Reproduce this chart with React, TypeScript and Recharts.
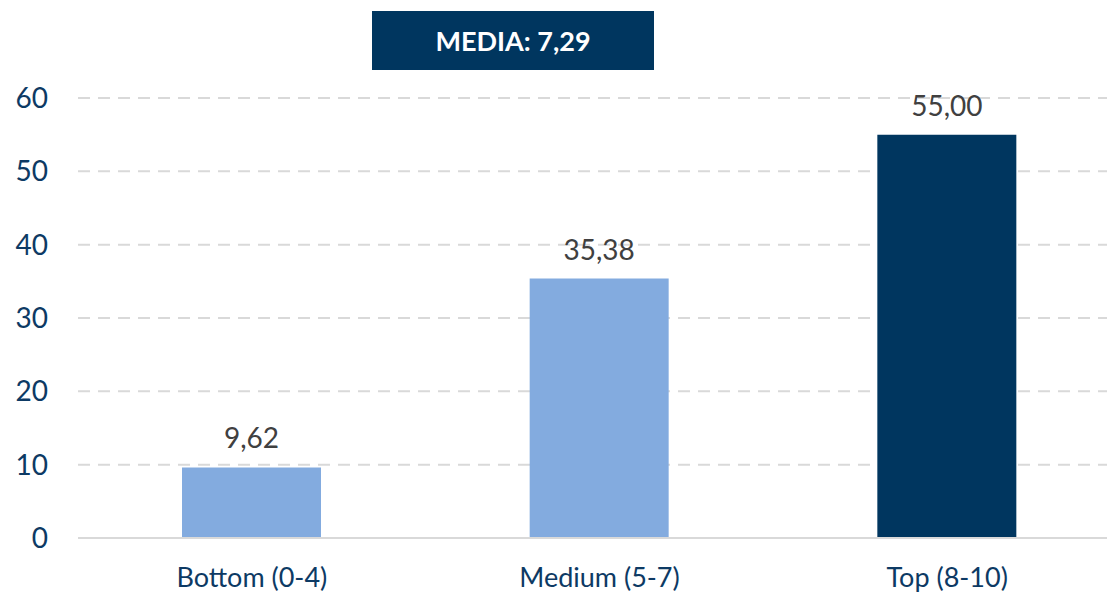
import { BarChart, Bar, XAxis, YAxis, CartesianGrid, Cell, LabelList } from "recharts";

const categories = ["Bottom (0-4)", "Medium (5-7)", "Top (8-10)"];
const values = [9.62, 35.38, 55.0];
const barColors = ["#83abdf", "#83abdf", "#00365f"];
const yTicks = [0, 10, 20, 30, 40, 50, 60];
const mediaLabel = "MEDIA: 7,29";

const FONT = "Lato, 'Open Sans', sans-serif";
const NAVY = "#0d3a64";

const chartData = categories.map((name, i) => ({ name, value: values[i] }));

function formatComma(v: number): string {
  return v.toFixed(2).replace(".", ",");
}

export default function App() {
  return (
    <div style={{ position: "absolute", left: 0, top: 0, width: 1107, height: 595, overflow: "hidden", background: "#fff", fontFamily: FONT }}>
      <BarChart
        width={1125}
        height={595}
        data={chartData}
        margin={{ top: 98, right: 4, left: 0, bottom: 7 }}
      >
        <CartesianGrid vertical={false} stroke="#d9d9d9" strokeWidth={2} strokeDasharray="12 8" />
        <XAxis
          dataKey="name"
          axisLine={{ stroke: "#d9d9d9", strokeWidth: 2 }}
          tickLine={false}
          tickSize={6}
          tickMargin={24}
          height={50}
          interval={0}
          tick={{ fill: NAVY, fontSize: 27, fontFamily: FONT }}
        />
        <YAxis
          domain={[0, 60]}
          ticks={yTicks}
          width={78}
          axisLine={false}
          tickLine={false}
          tickSize={6}
          tickMargin={24}
          tick={{ fill: NAVY, fontSize: 28, fontFamily: FONT }}
        />
        <Bar dataKey="value" barSize={139} isAnimationActive={false}>
          {chartData.map((d, i) => (
            <Cell key={d.name} fill={barColors[i]} />
          ))}
          <LabelList
            dataKey="value"
            position="top"
            offset={19}
            formatter={(v: number) => formatComma(v)}
            style={{ fill: "#404040", fontSize: 28, fontFamily: FONT }}
          />
        </Bar>
      </BarChart>
      <div
        style={{
          position: "absolute",
          left: 372,
          top: 11,
          width: 282,
          height: 59,
          background: "#00365f",
          color: "#fff",
          fontWeight: 700,
          fontSize: 27,
          display: "flex",
          alignItems: "center",
          justifyContent: "center",
        }}
      >
        {mediaLabel}
      </div>
    </div>
  );
}
